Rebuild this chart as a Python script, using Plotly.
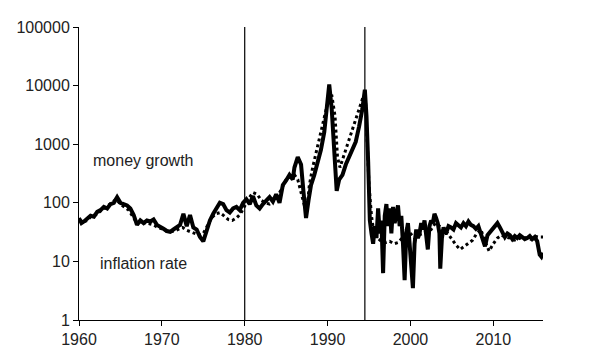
import plotly.graph_objects as go

# money growth (solid)
mg_year = [1960.0,1960.3,1960.6,1961.0,1961.4,1961.8,1962.2,1962.6,1963.0,1963.4,1963.8,1964.2,1964.6,1965.0,1965.4,1965.8,1966.2,1966.6,1967.0,1967.4,1967.8,1968.2,1968.6,1969.0,1969.4,1969.8,1970.2,1970.6,1971.0,1971.4,1971.8,1972.2,1972.6,1973.0,1973.4,1973.8,1974.2,1974.6,1975.0,1975.4,1975.8,1976.2,1976.6,1977.0,1977.4,1977.8,1978.2,1978.6,1979.0,1979.4,1979.8,1980.2,1980.6,1981.0,1981.4,1981.8,1982.2,1982.6,1983.0,1983.4,1983.8,1984.2,1984.6,1985.0,1985.4,1985.8,1986.0,1986.4,1986.8,1987.1,1987.4,1987.7,1988.0,1988.4,1988.8,1989.2,1989.6,1990.0,1990.2,1990.5,1990.8,1991.1,1991.4,1991.8,1992.2,1992.6,1993.0,1993.4,1993.8,1994.2,1994.5,1994.7,1994.9,1995.1,1995.3,1995.5,1995.7,1995.9,1996.1,1996.3,1996.5,1996.7,1996.9,1997.1,1997.3,1997.5,1997.7,1997.9,1998.1,1998.3,1998.5,1998.7,1998.9,1999.1,1999.3,1999.5,1999.7,1999.9,2000.1,2000.3,2000.5,2000.7,2000.9,2001.1,2001.3,2001.5,2001.7,2001.9,2002.1,2002.3,2002.5,2002.7,2002.9,2003.1,2003.3,2003.5,2003.6,2003.8,2004.0,2004.3,2004.6,2004.9,2005.2,2005.5,2005.8,2006.1,2006.4,2006.7,2007.0,2007.3,2007.6,2007.9,2008.2,2008.5,2008.8,2009.0,2009.3,2009.6,2009.9,2010.2,2010.5,2010.8,2011.1,2011.4,2011.7,2012.0,2012.3,2012.6,2012.9,2013.2,2013.5,2013.8,2014.1,2014.4,2014.7,2015.0,2015.3,2015.6,2015.8,2016.0]
mg_value = [55,45,48,55,60,58,70,75,85,80,95,100,125,100,95,90,80,62,42,50,45,50,48,52,42,38,36,33,32,35,38,42,65,40,62,38,35,26,22,35,50,65,80,100,95,75,68,80,85,75,100,115,95,130,90,80,95,110,125,105,140,100,200,240,300,250,400,600,450,150,55,110,200,300,480,800,1600,5000,10500,4000,800,160,250,300,450,600,800,1100,2000,4000,8500,3000,500,50,30,20,40,25,80,30,50,6.3,60,95,40,80,30,85,45,70,90,40,60,20,4.8,30,45,20,6,3.5,20,35,25,30,45,35,50,30,16,40,50,45,65,55,45,30,7.5,25,38,30,40,38,35,45,42,38,45,40,48,42,40,36,40,30,20,18,28,32,36,40,45,38,30,26,30,28,24,27,25,28,26,24,25,27,24,26,22,13,12,14]

# inflation rate (dotted)
inf_year = [1960.0,1960.5,1961.0,1961.5,1962.0,1962.5,1963.0,1963.5,1964.0,1964.5,1965.0,1965.5,1966.0,1966.5,1967.0,1967.5,1968.0,1968.5,1969.0,1969.5,1970.0,1970.5,1971.0,1971.5,1972.0,1972.5,1973.0,1973.5,1974.0,1974.5,1975.0,1975.5,1976.0,1976.5,1977.0,1977.5,1978.0,1978.5,1979.0,1979.5,1980.0,1980.5,1981.0,1981.5,1982.0,1982.5,1983.0,1983.5,1984.0,1984.5,1985.0,1985.5,1986.0,1986.4,1986.8,1987.2,1987.5,1987.8,1988.2,1988.6,1989.0,1989.5,1990.0,1990.5,1990.9,1991.2,1991.5,1991.9,1992.3,1992.7,1993.1,1993.5,1993.9,1994.3,1994.6,1994.8,1995.0,1995.3,1995.6,1996.0,1996.5,1997.0,1997.5,1998.0,1998.5,1999.0,1999.5,2000.0,2000.5,2001.0,2001.5,2002.0,2002.5,2003.0,2003.5,2004.0,2004.5,2005.0,2005.5,2006.0,2006.5,2007.0,2007.5,2008.0,2008.5,2009.0,2009.5,2010.0,2010.5,2011.0,2011.5,2012.0,2012.5,2013.0,2013.5,2014.0,2014.5,2015.0,2015.5,2016.0]
inf_value = [52,47,50,60,62,70,80,90,100,115,95,85,75,58,45,48,45,44,42,38,36,33,32,33,35,38,34,32,30,28,30,40,55,65,68,60,52,50,55,65,90,120,150,140,110,100,95,110,130,180,250,280,300,250,150,90,75,200,400,700,1200,2500,5000,7000,3000,600,400,600,900,1300,2000,3000,4500,6500,5000,1000,200,60,30,25,22,21,22,20,21,25,35,30,25,28,30,32,35,45,40,30,30,24,19,16,18,20,23,30,35,22,15,20,25,28,26,25,23,24,26,25,24,27,26,26]

breaks = [1980, 1994.5]
x_ticks = [1960, 1970, 1980, 1990, 2000, 2010]
y_ticks = [1, 10, 100, 1000, 10000, 100000]

FONT = "Liberation Sans, Arial, sans-serif"

fig = go.Figure()
fig.add_trace(go.Scatter(x=inf_year, y=inf_value, mode="lines",
                         line=dict(color="black", width=3, dash="dot"),
                         name="inflation rate", showlegend=False))
fig.add_trace(go.Scatter(x=mg_year, y=mg_value, mode="lines",
                         line=dict(color="black", width=4),
                         name="money growth", showlegend=False))

for b in breaks:
    fig.add_shape(type="line", x0=b, x1=b, y0=0, y1=1, xref="x", yref="paper",
                  line=dict(color="black", width=1.2))

fig.add_annotation(x=1967.8, y=2.73, xref="x", yref="y", text="money growth",
                   showarrow=False, font=dict(size=16, color="#222", family=FONT))
fig.add_annotation(x=1967.8, y=0.97, xref="x", yref="y", text="inflation rate",
                   showarrow=False, font=dict(size=16, color="#222", family=FONT))

# page body adds an 8px offset; margins compensate so the plot area lands at 79..543 x 27..320
fig.update_layout(
    width=600, height=360,
    margin=dict(l=71, r=65, t=19, b=48),
    plot_bgcolor="white", paper_bgcolor="white",
    font=dict(family=FONT, size=16, color="#222"),
    showlegend=False,
)
fig.update_xaxes(range=[1960, 2016], tickvals=x_ticks, ticktext=[str(t) for t in x_ticks],
                 showgrid=False, zeroline=False, showline=True, linecolor="black",
                 linewidth=1, ticks="outside", ticklen=5, tickcolor="black", automargin=False)
fig.update_yaxes(type="log", range=[0, 5], tickvals=y_ticks, ticktext=[str(t) for t in y_ticks],
                 showgrid=False, zeroline=False, showline=True, linecolor="black",
                 linewidth=1, ticks="outside", ticklen=5, tickcolor="black", automargin=False)

fig.write_html("out.html")
